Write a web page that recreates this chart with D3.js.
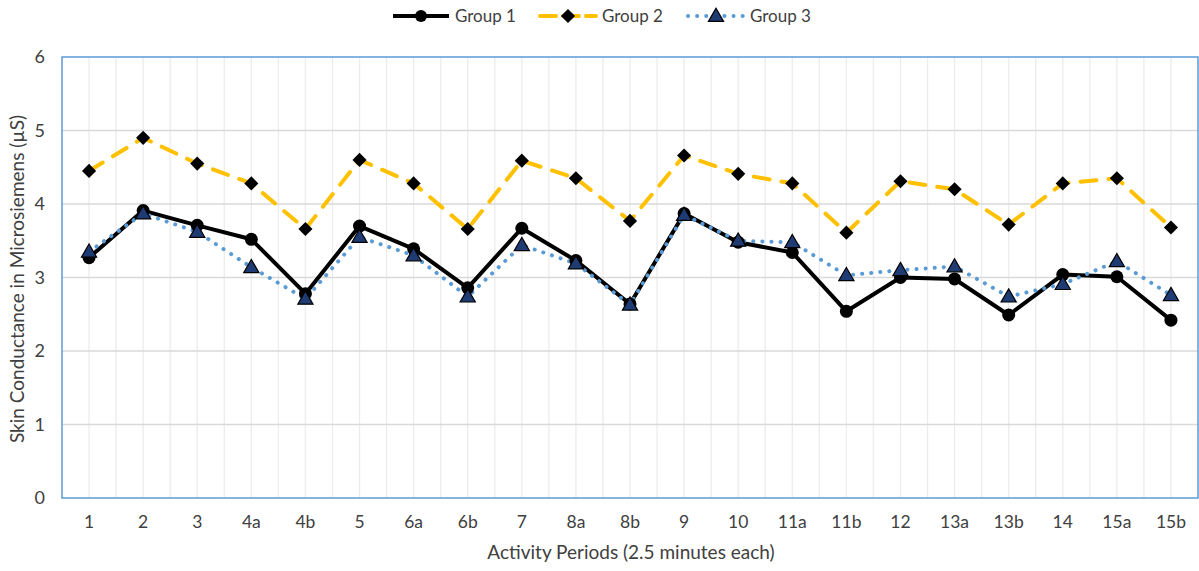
<!DOCTYPE html>
<html><head><meta charset="utf-8">
<script src="https://cdn.jsdelivr.net/npm/d3@7"></script>
<style>body{margin:0;background:#fff}svg{display:block;font-family:Lato,"Open Sans",sans-serif}</style>
</head><body><svg id="c" width="1199" height="571"></svg>
<script>
const categories = ["1","2","3","4a","4b","5","6a","6b","7","8a","8b","9","10","11a","11b","12","13a","13b","14","15a","15b"];
const group1 = [3.27,3.91,3.71,3.52,2.78,3.70,3.39,2.86,3.67,3.23,2.64,3.87,3.48,3.34,2.54,3.00,2.98,2.49,3.04,3.01,2.42];
const group2 = [4.45,4.90,4.55,4.28,3.66,4.60,4.28,3.66,4.59,4.35,3.77,4.66,4.41,4.28,3.61,4.31,4.20,3.72,4.28,4.35,3.68];
const group3 = [3.35,3.87,3.62,3.14,2.71,3.55,3.30,2.74,3.44,3.19,2.63,3.85,3.50,3.48,3.03,3.10,3.15,2.74,2.91,3.22,2.76];
const yTicks = [0,1,2,3,4,5,6];
const seriesNames = ["Group 1","Group 2","Group 3"];

const svg = d3.select("#c");
const L = 62, R = 1198, T = 57, B = 498;
const x = d3.scaleBand().domain(categories).range([L, R]).padding(0);
const y = d3.scaleLinear().domain([0, 6]).range([B, T]);
const cx = c => x(c) + x.bandwidth() / 2;

const vlines = [];
categories.forEach((c, i) => { vlines.push(cx(c)); if (i > 0) vlines.push(x(c)); });
svg.append("g").selectAll("line").data(vlines).join("line")
  .attr("x1", d => d).attr("x2", d => d).attr("y1", T).attr("y2", B)
  .attr("stroke", "#ececec").attr("stroke-width", 1.3);
svg.append("g").selectAll("line").data(yTicks.filter(t => t > 0 && t < 6)).join("line")
  .attr("x1", L).attr("x2", R).attr("y1", d => y(d)).attr("y2", d => y(d))
  .attr("stroke", "#d9d9d9").attr("stroke-width", 1.3);

svg.append("rect").attr("x", L).attr("y", T).attr("width", R - L).attr("height", B - T)
  .attr("fill", "none").attr("stroke", "#5b9bd5").attr("stroke-width", 1.5);

const yAxis = d3.axisLeft(y).tickValues(yTicks).tickFormat(d3.format("d")).tickSize(0).tickPadding(17);
const gy = svg.append("g").attr("transform", `translate(${L},0)`).call(yAxis);
gy.select(".domain").remove();
gy.selectAll("text").attr("font-size", 18).attr("fill", "#404040").attr("font-family", "Lato,'Open Sans',sans-serif");

const xAxis = d3.axisBottom(x).tickSize(0).tickPadding(18);
const gx = svg.append("g").attr("transform", `translate(0,${B})`).call(xAxis);
gx.select(".domain").remove();
gx.selectAll("text").attr("font-size", 17.5).attr("fill", "#404040").attr("font-family", "Lato,'Open Sans',sans-serif");

svg.append("text").attr("x", 631).attr("y", 559).attr("text-anchor", "middle")
  .attr("font-size", 19).attr("fill", "#404040").text("Activity Periods (2.5 minutes each)");
svg.append("text").attr("transform", "translate(24,279) rotate(-90)").attr("text-anchor", "middle")
  .attr("font-size", 19).attr("fill", "#404040").text("Skin Conductance in Microsiemens (µS)");

const line = d3.line().x((d, i) => cx(categories[i])).y(d => y(d));

svg.append("path").datum(group2).attr("d", line).attr("fill", "none")
  .attr("stroke", "#ffc000").attr("stroke-width", 4).attr("stroke-dasharray", "16 12").attr("stroke-linecap", "round");
svg.append("path").datum(group1).attr("d", line).attr("fill", "none")
  .attr("stroke", "#000").attr("stroke-width", 4).attr("stroke-linejoin", "round");
svg.append("path").datum(group3).attr("d", line).attr("fill", "none")
  .attr("stroke", "#5b9bd5").attr("stroke-width", 4).attr("stroke-dasharray", "0.1 9").attr("stroke-linecap", "round");

const diamond = d3.symbol().type(d3.symbolSquare).size(100);
const tri = d3.symbol().type(d3.symbolTriangle).size(100);

svg.append("g").selectAll("path").data(group2).join("path")
  .attr("d", diamond).attr("transform", (d, i) => `translate(${cx(categories[i])},${y(d)}) rotate(45)`)
  .attr("fill", "#000");
svg.append("g").selectAll("circle").data(group1).join("circle")
  .attr("cx", (d, i) => cx(categories[i])).attr("cy", d => y(d)).attr("r", 6.5).attr("fill", "#000");
svg.append("g").selectAll("path").data(group3).join("path")
  .attr("d", tri).attr("transform", (d, i) => `translate(${cx(categories[i])},${y(d) + 1})`)
  .attr("fill", "#1f3b73").attr("stroke", "#000").attr("stroke-width", 1.2);

const lg = svg.append("g");
const items = [
  {name: seriesNames[0], x0: 393, color: "#000", dash: null, mark: "circle"},
  {name: seriesNames[1], x0: 540, color: "#ffc000", dash: "16 7", mark: "diamond"},
  {name: seriesNames[2], x0: 688, color: "#5b9bd5", dash: "0.1 9", mark: "tri"}
];
items.forEach(it => {
  const g = lg.append("g");
  const ln = g.append("line").attr("x1", it.x0).attr("x2", it.x0 + 56).attr("y1", 16).attr("y2", 16)
    .attr("stroke", it.color).attr("stroke-width", 4);
  if (it.dash) ln.attr("stroke-dasharray", it.dash).attr("stroke-linecap", "round");
  const mx = it.x0 + 28;
  if (it.mark === "circle") g.append("circle").attr("cx", mx).attr("cy", 16).attr("r", 6).attr("fill", "#000");
  if (it.mark === "diamond") g.append("path").attr("d", diamond).attr("transform", `translate(${mx},16) rotate(45)`).attr("fill", "#000");
  if (it.mark === "tri") g.append("path").attr("d", tri).attr("transform", `translate(${mx},17)`).attr("fill", "#1f3b73").attr("stroke", "#000").attr("stroke-width", 1.2);
  g.append("text").attr("x", it.x0 + 62).attr("y", 22).attr("font-size", 17).attr("fill", "#404040").text(it.name);
});
</script></body></html>
